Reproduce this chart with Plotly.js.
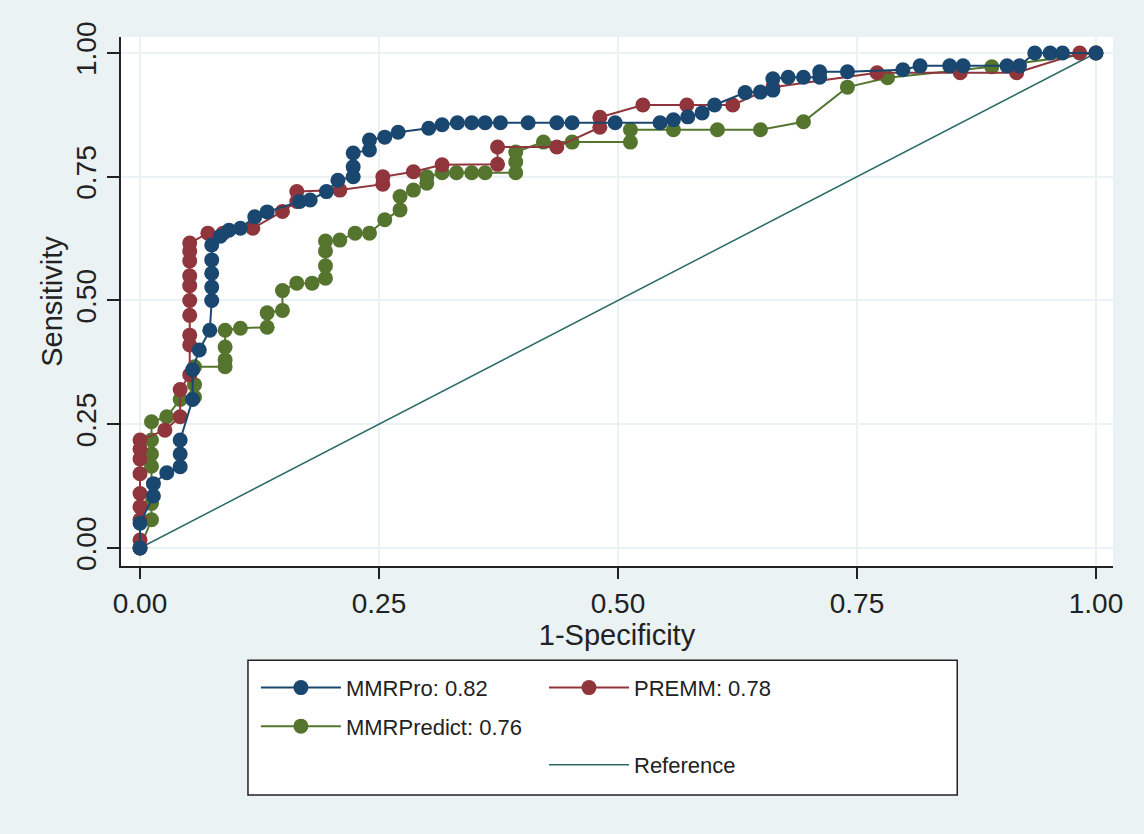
<!DOCTYPE html>
<html>
<head>
<meta charset="utf-8">
<script src="https://cdn.plot.ly/plotly-3.0.1.min.js"></script>
<style>html,body{margin:0;padding:0;background:#eaf2f3;}</style>
</head>
<body>
<div id="chart" style="width:1144px;height:834px;"></div>
<script>
// ---- Data (1-Specificity, Sensitivity) ----
const mmrproX = [0, 0, 0.014, 0.014, 0.028, 0.042, 0.042, 0.042, 0.055, 0.055, 0.062, 0.073, 0.075, 0.075, 0.075, 0.075, 0.075, 0.084, 0.093, 0.105, 0.12, 0.133, 0.167, 0.178, 0.195, 0.207, 0.223, 0.223, 0.223, 0.24, 0.24, 0.256, 0.27, 0.302, 0.316, 0.332, 0.347, 0.361, 0.377, 0.406, 0.436, 0.452, 0.497, 0.544, 0.558, 0.573, 0.588, 0.601, 0.633, 0.649, 0.662, 0.662, 0.678, 0.694, 0.711, 0.711, 0.74, 0.798, 0.816, 0.847, 0.861, 0.907, 0.92, 0.936, 0.952, 0.965, 1];
const mmrproY = [0, 0.05, 0.105, 0.13, 0.152, 0.164, 0.19, 0.218, 0.30, 0.36, 0.40, 0.44, 0.50, 0.527, 0.555, 0.582, 0.612, 0.63, 0.642, 0.646, 0.669, 0.679, 0.70, 0.703, 0.72, 0.743, 0.75, 0.77, 0.798, 0.804, 0.824, 0.83, 0.84, 0.848, 0.855, 0.859, 0.859, 0.859, 0.859, 0.859, 0.859, 0.859, 0.859, 0.859, 0.865, 0.871, 0.879, 0.895, 0.92, 0.921, 0.925, 0.948, 0.951, 0.951, 0.951, 0.962, 0.962, 0.966, 0.974, 0.974, 0.974, 0.974, 0.974, 1, 1, 1, 1];

const premmX = [0, 0, 0, 0, 0, 0, 0, 0, 0, 0.026, 0.042, 0.042, 0.052, 0.052, 0.052, 0.052, 0.052, 0.052, 0.052, 0.052, 0.052, 0.052, 0.071, 0.087, 0.118, 0.149, 0.164, 0.164, 0.209, 0.254, 0.254, 0.286, 0.316, 0.374, 0.374, 0.436, 0.481, 0.481, 0.526, 0.572, 0.62, 0.662, 0.771, 0.858, 0.917, 0.983, 1];
const premmY = [0, 0.016, 0.057, 0.083, 0.11, 0.15, 0.18, 0.20, 0.218, 0.238, 0.265, 0.32, 0.35, 0.41, 0.43, 0.47, 0.50, 0.53, 0.55, 0.58, 0.60, 0.616, 0.636, 0.636, 0.646, 0.68, 0.70, 0.72, 0.723, 0.735, 0.75, 0.76, 0.774, 0.775, 0.81, 0.81, 0.85, 0.87, 0.895, 0.895, 0.895, 0.931, 0.96, 0.96, 0.96, 1, 1];

const predictX = [0, 0.012, 0.012, 0.012, 0.012, 0.012, 0.012, 0.028, 0.042, 0.057, 0.057, 0.057, 0.089, 0.089, 0.089, 0.089, 0.105, 0.133, 0.133, 0.149, 0.149, 0.164, 0.18, 0.194, 0.194, 0.194, 0.194, 0.209, 0.225, 0.24, 0.256, 0.272, 0.272, 0.286, 0.30, 0.30, 0.316, 0.331, 0.347, 0.361, 0.393, 0.393, 0.393, 0.422, 0.452, 0.513, 0.513, 0.558, 0.604, 0.649, 0.694, 0.74, 0.782, 0.891, 1];
const predictY = [0, 0.057, 0.09, 0.165, 0.19, 0.218, 0.255, 0.265, 0.30, 0.305, 0.33, 0.366, 0.366, 0.38, 0.406, 0.44, 0.444, 0.446, 0.475, 0.48, 0.52, 0.535, 0.535, 0.545, 0.57, 0.60, 0.62, 0.622, 0.636, 0.636, 0.663, 0.683, 0.71, 0.723, 0.737, 0.75, 0.758, 0.758, 0.758, 0.758, 0.758, 0.78, 0.80, 0.82, 0.82, 0.82, 0.845, 0.845, 0.845, 0.845, 0.861, 0.931, 0.95, 0.972, 1];

const refX = [0, 1];
const refY = [0, 1];

const seriesNames = ["MMRPro: 0.82", "PREMM: 0.78", "MMRPredict: 0.76", "Reference"];
const xTickVals = [0, 0.25, 0.5, 0.75, 1];
const xTickText = ["0.00", "0.25", "0.50", "0.75", "1.00"];
const yTickVals = [0, 0.25, 0.5, 0.75, 1];
const yTickText = ["0.00", "0.25", "0.50", "0.75", "1.00"];

const NAVY = "#1a476f", MAROON = "#90353b", GREEN = "#55752f", TEAL = "#2a6a67";
const FONT = "Liberation Sans, Arial, sans-serif";

function roc(x, y, name, color, legend, group) {
  return {
    x: x, y: y, name: name, type: "scatter", mode: "lines+markers",
    line: {color: color, width: 2},
    marker: {color: color, size: 15, symbol: "circle"},
    legend: legend, legendgroup: group, hoverinfo: "x+y+name"
  };
}

const traces = [
  {x: refX, y: refY, name: seriesNames[3], type: "scatter", mode: "lines",
   line: {color: TEAL, width: 1.5}, legend: "legend2", legendgroup: "g5"},
  roc(predictX, predictY, seriesNames[2], GREEN, "legend", "g2"),
  roc(premmX, premmY, seriesNames[1], MAROON, "legend2", "g3"),
  roc(mmrproX, mmrproY, seriesNames[0], NAVY, "legend", "g1"),
  {x: [null], y: [null], name: " ", type: "scatter", mode: "lines",
   line: {color: "rgba(0,0,0,0)", width: 1}, legend: "legend2", legendgroup: "g4", hoverinfo: "skip"}
];
traces[3].legendrank = 1; traces[2].legendrank = 2; traces[1].legendrank = 3;
traces[4].legendrank = 4; traces[0].legendrank = 5;

const legendCommon = {
  orientation: "v", xanchor: "left", yanchor: "top",
  bgcolor: "rgba(0,0,0,0)", borderwidth: 0,
  font: {family: FONT, size: 22, color: "#222"},
  itemwidth: 80, traceorder: "grouped", tracegroupgap: 7,
  itemclick: false, itemdoubleclick: false
};

const layout = {
  width: 1144, height: 834,
  paper_bgcolor: "#eaf2f3", plot_bgcolor: "#ffffff",
  margin: {l: 121, r: 31, t: 37, b: 268},
  font: {family: FONT, color: "#222"},
  showlegend: true,
  xaxis: {
    range: [-0.0199, 1.0178], tickvals: xTickVals, ticktext: xTickText,
    showgrid: true, gridcolor: "#eaf2f3", gridwidth: 1.5, zeroline: false,
    showline: true, linecolor: "#222", linewidth: 2,
    ticks: "outside", ticklen: 11, tickwidth: 2, tickcolor: "#222",
    tickfont: {family: FONT, size: 28, color: "#222"},
    title: {text: "1-Specificity", font: {family: FONT, size: 29, color: "#222"}, standoff: 0},
    automargin: false, fixedrange: true
  },
  yaxis: {
    range: [-0.0364, 1.0323], tickvals: yTickVals, ticktext: yTickText,
    showgrid: true, gridcolor: "#eaf2f3", gridwidth: 1.5, zeroline: false,
    showline: true, linecolor: "#222", linewidth: 2,
    ticks: "outside", ticklen: 12, tickwidth: 2, tickcolor: "#222",
    tickangle: -90,
    tickfont: {family: FONT, size: 28, color: "#222"},
    title: {text: "Sensitivity", font: {family: FONT, size: 29, color: "#222"}, standoff: 0},
    automargin: false, fixedrange: true
  },
  legend: Object.assign({}, legendCommon, {x: 0.136, y: -0.1905}),
  legend2: Object.assign({}, legendCommon, {x: 0.4264, y: -0.1905}),
  shapes: [{
    type: "rect", xref: "paper", yref: "paper",
    x0: 0.128, x1: 0.843, y0: -0.433, y1: -0.178,
    line: {color: "#222", width: 1.5}, fillcolor: "#ffffff", layer: "below"
  }]
};

Plotly.newPlot("chart", traces, layout, {displayModeBar: false, responsive: false});
</script>
</body>
</html>
